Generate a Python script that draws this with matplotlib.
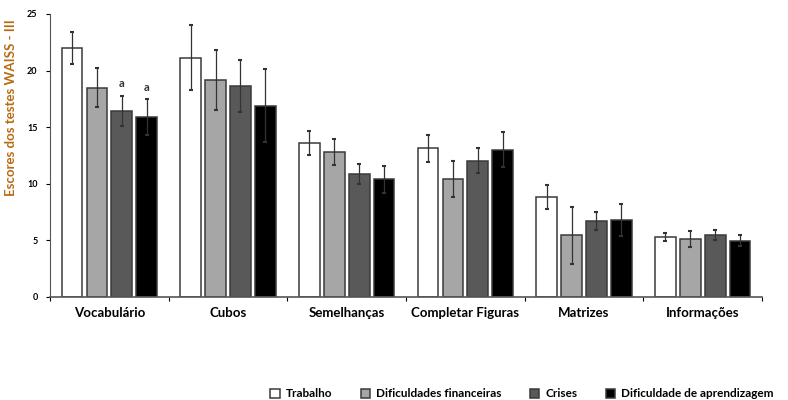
import numpy as np
import matplotlib
matplotlib.use('Agg')
import matplotlib.pyplot as plt

plt.rcParams['font.family'] = ['Lato', 'DejaVu Sans']

# WAISS-III subtest scores per group
tests = ['Vocabulário', 'Cubos', 'Semelhanças', 'Completar Figuras', 'Matrizes', 'Informações']
groups = ['Trabalho', 'Dificuldades financeiras', 'Crises', 'Dificuldade de aprendizagem']

trabalho = [22.0, 21.15, 13.6, 13.15, 8.85, 5.33]
financeiras = [18.5, 19.2, 12.8, 10.4, 5.45, 5.1]
crises = [16.45, 18.6, 10.85, 12.05, 6.7, 5.45]
aprendizagem = [15.9, 16.9, 10.4, 13.0, 6.8, 4.97]

trabalho_err = [1.45, 2.9, 1.05, 1.2, 1.05, 0.35]
financeiras_err = [1.7, 2.65, 1.15, 1.6, 2.5, 0.7]
crises_err = [1.35, 2.3, 0.9, 1.1, 0.77, 0.45]
aprendizagem_err = [1.55, 3.2, 1.2, 1.55, 1.4, 0.5]

# significance marks: (test index, group index, letter)
marks = [(0, 2, 'a'), (0, 3, 'a')]

values = [trabalho, financeiras, crises, aprendizagem]
errors = [trabalho_err, financeiras_err, crises_err, aprendizagem_err]
colors = ['#ffffff', '#a6a6a6', '#595959', '#000000']

fig = plt.figure(figsize=(7.88, 4.0), dpi=100)
ax = fig.add_axes([0.0635, 0.2575, 0.9035, 0.7075])

x = np.arange(len(tests))
pitch = 0.21
width = 0.175
offsets = (np.arange(len(groups)) - 1.5) * pitch

for i, name in enumerate(groups):
    ax.bar(x + offsets[i], values[i], width, yerr=errors[i], color=colors[i],
           edgecolor='#3a3a3a', linewidth=1.1, label=name,
           error_kw=dict(ecolor='#333333', elinewidth=0.9, capsize=1.2, capthick=1.5))

for ti, gi, letter in marks:
    top = values[gi][ti] + errors[gi][ti]
    ax.text(x[ti] + offsets[gi], top + 0.6, letter, ha='center', va='bottom',
            fontsize=8, fontweight='bold', color='#333333')

ax.set_xlim(-0.5, len(tests) - 0.5)
ax.set_ylim(0, 25)
ax.set_yticks([0, 5, 10, 15, 20, 25])
ax.tick_params(axis='y', labelsize=6.5, length=3, width=0.8, pad=6)

# category names centred under each group, ticks on group boundaries
ax.set_xticks(x)
ax.set_xticklabels(tests, fontsize=9.5, fontweight='bold')
ax.tick_params(axis='x', which='major', length=0, pad=7)
ax.set_xticks(np.arange(len(tests) + 1) - 0.5, minor=True)
ax.tick_params(axis='x', which='minor', length=3, width=0.8, direction='out')

for lbl in ax.get_yticklabels():
    lbl.set_fontweight('bold')

ax.spines['top'].set_visible(False)
ax.spines['right'].set_visible(False)
ax.spines['left'].set_color('#555555')
ax.spines['bottom'].set_color('#555555')
ax.spines['bottom'].set_linewidth(1.2)

ax.set_ylabel('Escores dos testes WAISS - III', fontsize=9.5, fontweight='bold',
              color='#b86a10')
ax.yaxis.set_label_coords(-0.046, 0.67)

fig.legend(loc='lower right', bbox_to_anchor=(0.995, -0.025), ncol=4, frameon=False,
           handlelength=0.8, handleheight=0.8, handletextpad=0.5,
           columnspacing=2.4, prop={'weight': 'bold', 'size': 8.5})

fig.savefig('out.png', dpi=100)
